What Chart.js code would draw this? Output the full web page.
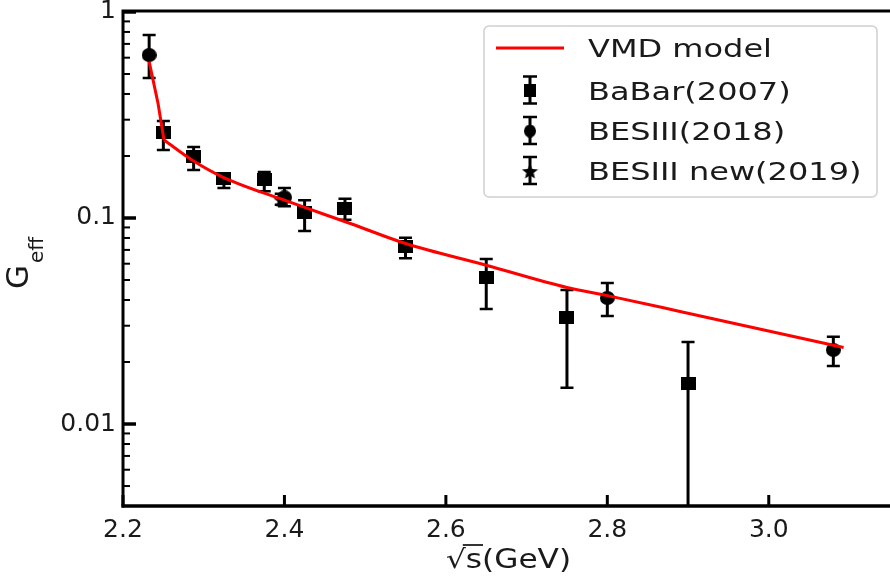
<!DOCTYPE html>
<html>
<head>
<meta charset="utf-8">
<script src="https://cdn.jsdelivr.net/npm/chart.js@4.4.1/dist/chart.umd.min.js"></script>
<style>
html, body { margin: 0; padding: 0; background: #fff; }
canvas { display: block; }
</style>
</head>
<body>
<canvas id="chart" width="890" height="576"></canvas>
<script>
// VMD model curve; the first three points form the steep threshold part
const vmdX = [2.2324, 2.2434, 2.2508, 2.2865, 2.3234, 2.40, 2.4834, 2.55, 2.65, 2.75, 2.80, 2.89, 3.0927];
const vmdY = [0.574, 0.360, 0.239, 0.190, 0.158, 0.122, 0.0935, 0.0752, 0.059, 0.046, 0.042, 0.0352, 0.0235];
const vmdKink = 2;

// BaBar(2007)
const babarX  = [2.25, 2.2875, 2.325, 2.375, 2.425, 2.475, 2.55, 2.65, 2.75, 2.90];
const babarY  = [0.259, 0.198, 0.155, 0.153, 0.106, 0.111, 0.0726, 0.0517, 0.033, 0.0158];
const babarHi = [0.296, 0.221, 0.164, 0.167, 0.122, 0.124, 0.0802, 0.0632, 0.0447, 0.025];
const babarLo = [0.214, 0.171, 0.140, 0.135, 0.0865, 0.098, 0.0637, 0.0362, 0.015, 0.001];

// BESIII(2018)
const bes18X  = [2.2324, 2.400, 2.800, 3.080];
const bes18Y  = [0.618, 0.126, 0.0409, 0.0229];
const bes18Hi = [0.774, 0.140, 0.0483, 0.0265];
const bes18Lo = [0.478, 0.114, 0.0334, 0.0191];

// BESIII new(2019)
const bes19X  = [2.396];
const bes19Y  = [0.123];
const bes19Hi = [0.131];
const bes19Lo = [0.116];

const xTicks = [2.2, 2.4, 2.6, 2.8, 3.0];
const yTicks = [0.01, 0.1, 1];

const FONT = '"DejaVu Sans", sans-serif';
const INK = '#1a1a1a';

function marker(kind, w, h) {
  const c = document.createElement('canvas');
  c.width = w; c.height = h;
  const g = c.getContext('2d');
  g.fillStyle = '#000';
  if (kind === 'rect') {
    g.fillRect(0, 0, w, h);
  } else if (kind === 'circle') {
    g.beginPath();
    g.ellipse(w / 2, h / 2, w / 2, h / 2, 0, 0, Math.PI * 2);
    g.fill();
  } else {
    const r = Math.min(w, h) / 2, ri = r * 0.45;
    g.beginPath();
    for (let i = 0; i < 10; i++) {
      const a = -Math.PI / 2 + i * Math.PI / 5;
      const rr = i % 2 ? ri : r;
      g.lineTo(w / 2 + rr * Math.cos(a) * (w / h), h / 2 + 1 + rr * Math.sin(a));
    }
    g.closePath();
    g.fill();
  }
  return c;
}

const sqMark = marker('rect', 15, 13);
const ciMark = marker('circle', 15, 14);
const stMark = marker('star', 17, 16);

const pts = (xs, ys) => xs.map((x, i) => ({ x: x, y: ys[i] }));
const vmdPts = pts(vmdX, vmdY);

const errSets = [
  { x: babarX, lo: babarLo, hi: babarHi },
  { x: bes18X, lo: bes18Lo, hi: bes18Hi },
  { x: bes19X, lo: bes19Lo, hi: bes19Hi }
];

function stretched(ctx, text, x, y, sx) {
  ctx.save();
  ctx.translate(x, y);
  ctx.scale(sx, 1);
  ctx.fillText(text, 0, 0);
  ctx.restore();
}

const decor = {
  id: 'decor',
  beforeDatasetsDraw(chart) {
    const { ctx, chartArea: a, scales: { x, y } } = chart;
    ctx.save();
    ctx.beginPath();
    ctx.rect(a.left, a.top, a.right - a.left, a.bottom - a.top);
    ctx.clip();
    ctx.strokeStyle = '#000';
    errSets.forEach(s => {
      s.x.forEach((v, i) => {
        const px = x.getPixelForValue(v);
        const top = y.getPixelForValue(s.hi[i]);
        const bot = y.getPixelForValue(s.lo[i]);
        ctx.lineWidth = 3;
        ctx.beginPath(); ctx.moveTo(px, top); ctx.lineTo(px, bot); ctx.stroke();
        ctx.lineWidth = 2.5;
        ctx.beginPath();
        ctx.moveTo(px - 6.5, top); ctx.lineTo(px + 6.5, top);
        ctx.moveTo(px - 6.5, bot); ctx.lineTo(px + 6.5, bot);
        ctx.stroke();
      });
    });
    ctx.restore();
  },
  afterDraw(chart) {
    const { ctx, chartArea: a, scales: { x, y } } = chart;
    ctx.save();
    ctx.strokeStyle = '#000';

    // frame (the right spine is cut off in the original)
    ctx.lineWidth = 3;
    ctx.beginPath();
    ctx.moveTo(a.left, a.top); ctx.lineTo(890, a.top);
    ctx.moveTo(a.left, a.top - 1.5); ctx.lineTo(a.left, a.bottom + 1.5);
    ctx.stroke();
    ctx.lineWidth = 3.5;
    ctx.beginPath();
    ctx.moveTo(a.left - 1.5, a.bottom); ctx.lineTo(890, a.bottom);
    ctx.stroke();

    // inward ticks
    ctx.lineWidth = 3;
    xTicks.forEach(v => {
      const px = x.getPixelForValue(v);
      ctx.beginPath(); ctx.moveTo(px, a.bottom); ctx.lineTo(px, a.bottom - 11); ctx.stroke();
    });
    for (let e = -3; e <= 0; e++) {
      for (let k = 1; k <= 9; k++) {
        const v = k * Math.pow(10, e);
        if (v < y.min || v > y.max) continue;
        const py = y.getPixelForValue(v);
        ctx.lineWidth = k === 1 ? 3.5 : 2;
        ctx.beginPath(); ctx.moveTo(a.left, py); ctx.lineTo(a.left + (k === 1 ? 13 : 7), py); ctx.stroke();
      }
    }

    // axis titles
    ctx.fillStyle = INK;
    ctx.textBaseline = 'alphabetic';
    ctx.font = '26px ' + FONT;
    const full = '\u221As(GeV)';
    const sx = 1.2;
    const w = ctx.measureText(full).width * sx;
    const x0 = (a.left + 890) / 2 - w / 2 + 2;
    stretched(ctx, full, x0, 568, sx);
    const wr = ctx.measureText('\u221A').width * sx;
    const ws = ctx.measureText('\u221As').width * sx;
    ctx.lineWidth = 1.6;
    ctx.beginPath(); ctx.moveTo(x0 + wr - 3, 545); ctx.lineTo(x0 + ws + 1, 545); ctx.stroke();

    ctx.save();
    ctx.translate(28, 289);
    ctx.rotate(-Math.PI / 2);
    ctx.font = '31px ' + FONT;
    ctx.fillText('G', 0, 0);
    const gw = ctx.measureText('G').width;
    ctx.font = '20px ' + FONT;
    ctx.fillText('eff', gw + 2, 15);
    ctx.restore();

    // legend
    const L = { left: 484, top: 26, right: 877, bottom: 197 };
    ctx.fillStyle = 'rgba(255,255,255,0.8)';
    ctx.strokeStyle = '#d0d0d0';
    ctx.lineWidth = 1.5;
    ctx.beginPath();
    ctx.roundRect(L.left, L.top, L.right - L.left, L.bottom - L.top, 5);
    ctx.fill(); ctx.stroke();

    const rows = [48, 90.5, 131, 171];
    const labels = ['VMD model', 'BaBar(2007)', 'BESIII(2018)', 'BESIII new(2019)'];
    ctx.strokeStyle = '#ff0000';
    ctx.lineWidth = 3;
    ctx.beginPath(); ctx.moveTo(496, rows[0]); ctx.lineTo(564, rows[0]); ctx.stroke();
    const marks = [null, [sqMark, 12, 13], [ciMark, 12, 13], [stMark, 17, 16]];
    ctx.strokeStyle = '#000';
    for (let i = 1; i < 4; i++) {
      const cy = rows[i];
      ctx.lineWidth = 3;
      ctx.beginPath(); ctx.moveTo(530, cy - 14); ctx.lineTo(530, cy + 13); ctx.stroke();
      ctx.lineWidth = 2.5;
      ctx.beginPath();
      ctx.moveTo(523, cy - 14); ctx.lineTo(537, cy - 14);
      ctx.moveTo(523, cy + 13); ctx.lineTo(537, cy + 13);
      ctx.stroke();
      const [m, mw, mh] = marks[i];
      ctx.drawImage(m, 530 - mw / 2, cy - mh / 2, mw, mh);
    }
    ctx.fillStyle = INK;
    ctx.font = '25px ' + FONT;
    labels.forEach((t, i) => stretched(ctx, t, 588, rows[i] + 9, 1.28));
    ctx.restore();
  }
};

const redLine = {
  showLine: true,
  borderColor: '#ff0000',
  borderWidth: 3,
  pointRadius: 0,
  order: 0
};

new Chart(document.getElementById('chart'), {
  type: 'scatter',
  data: {
    datasets: [
      Object.assign({ label: 'VMD model', data: vmdPts.slice(0, vmdKink + 1), tension: 0 }, redLine),
      Object.assign({ label: 'VMD model tail', data: vmdPts.slice(vmdKink), cubicInterpolationMode: 'monotone' }, redLine),
      {
        label: 'BaBar(2007)',
        data: pts(babarX, babarY),
        pointStyle: sqMark,
        order: 1
      },
      {
        label: 'BESIII(2018)',
        data: pts(bes18X, bes18Y),
        pointStyle: ciMark,
        order: 2
      },
      {
        label: 'BESIII new(2019)',
        data: pts(bes19X, bes19Y),
        pointStyle: stMark,
        order: 3
      }
    ]
  },
  options: {
    responsive: false,
    animation: false,
    events: [],
    layout: { padding: { top: 11, right: 0, left: 0, bottom: 0 } },
    plugins: {
      legend: { display: false },
      tooltip: { enabled: false }
    },
    scales: {
      x: {
        type: 'linear',
        min: 2.2,
        max: 3.144,
        grid: { display: false, drawTicks: false },
        border: { display: false },
        afterBuildTicks: s => { s.ticks = xTicks.map(v => ({ value: v })); },
        afterFit: s => { s.height = 70; s.paddingLeft = 0; s.paddingRight = 0; },
        ticks: {
          maxRotation: 0,
          autoSkip: false,
          padding: 9,
          color: INK,
          font: { family: FONT, size: 25 },
          callback: v => Number(v).toFixed(1)
        }
      },
      y: {
        type: 'logarithmic',
        min: 0.004,
        max: 1.011,
        grid: { display: false, drawTicks: false },
        border: { display: false },
        afterBuildTicks: s => { s.ticks = yTicks.map(v => ({ value: v })); },
        afterFit: s => { s.width = 123; s.paddingTop = 0; s.paddingBottom = 0; },
        ticks: {
          autoSkip: false,
          padding: 7,
          color: INK,
          font: { family: FONT, size: 25 },
          callback: v => String(v)
        }
      }
    }
  },
  plugins: [decor]
});
</script>
</body>
</html>
